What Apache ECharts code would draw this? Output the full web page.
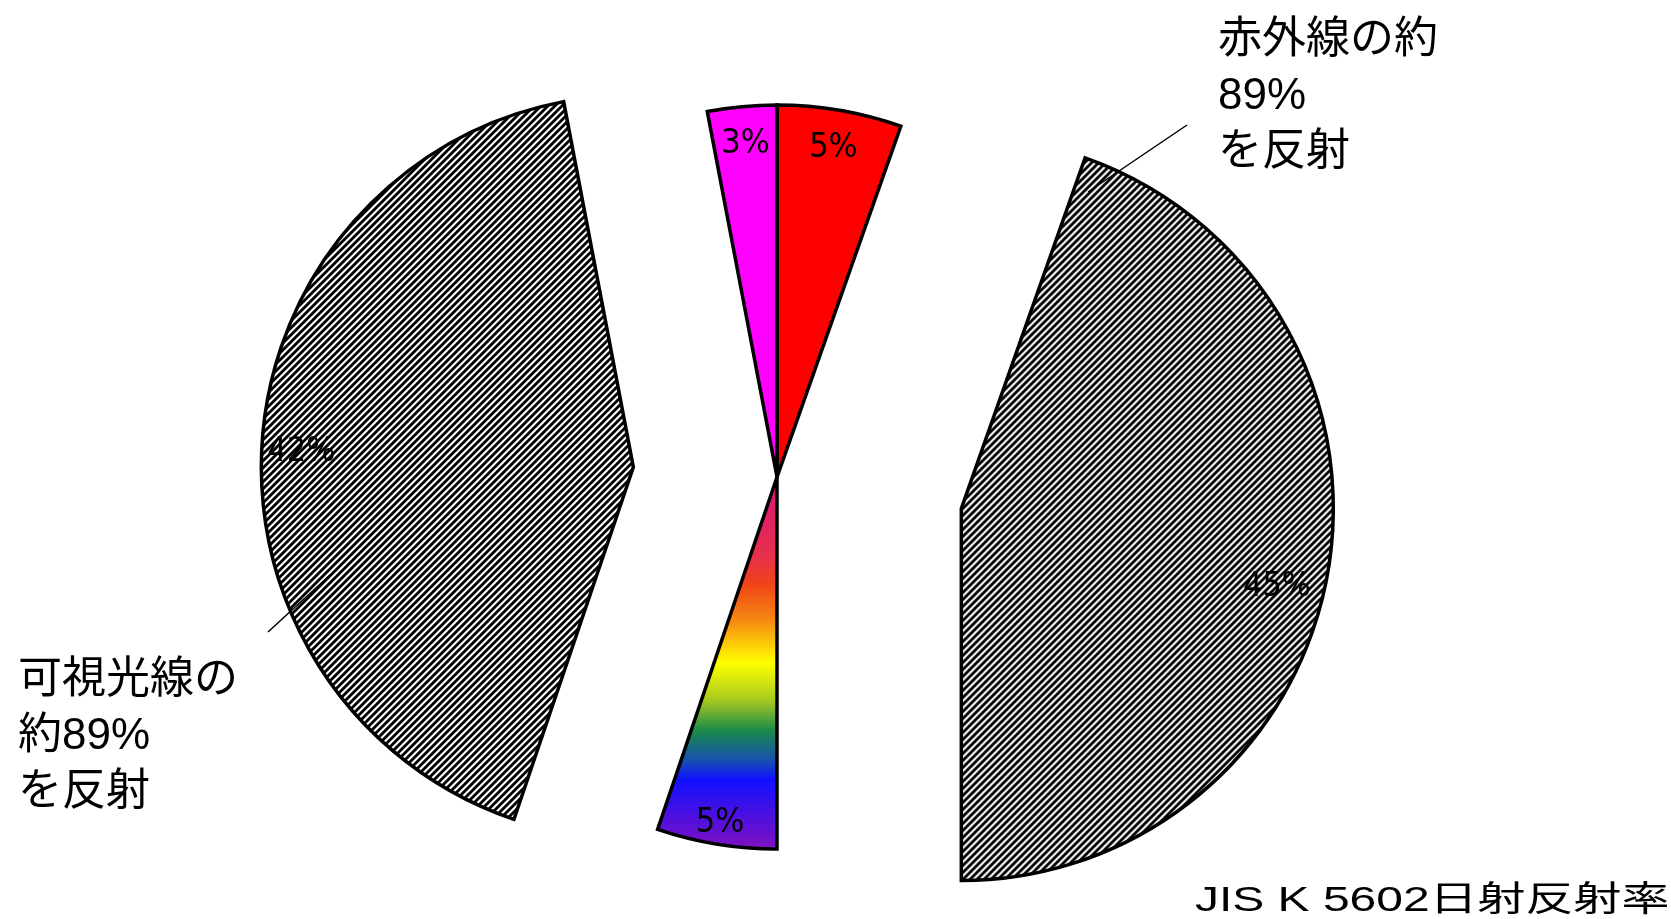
<!DOCTYPE html>
<html>
<head>
<meta charset="utf-8">
<script src="https://cdn.jsdelivr.net/npm/echarts@6/dist/echarts.min.js"></script>
<style>
  html, body { margin: 0; padding: 0; background: #ffffff; }
  #chart { width: 1671px; height: 919px; }
</style>
</head>
<body>
<div id="chart"></div>
<script>
// Solar energy split: infrared 50%, visible 47%, ultraviolet 3%,
// with the reflected part of infrared and visible pulled out of the pie.
const sliceNames = ['赤外線(吸収)', '赤外線(反射)', '可視光線(吸収)', '可視光線(反射)', '紫外線'];
const sliceValues = [5.4, 44.6, 5.2, 41.8, 3.0];

const noteInfrared = ['赤外線の約', '89%', 'を反射'];
const noteVisible = ['可視光線の', '約89%', 'を反射'];
const footnote = 'JIS K 5602日射反射率';

const CENTER = [777, 477];
const R = 372;
const LABEL_FONT = '"Liberation Sans Narrow", "DejaVu Sans Condensed", "Liberation Sans", sans-serif';
const TEXT_FONT = '"Liberation Sans", "Noto Sans CJK JP", sans-serif';

// Fine "/" hatching used for the reflected slices
function hatchTile() {
  const s = 7;
  const c = document.createElement('canvas');
  c.width = s; c.height = s;
  const ctx = c.getContext('2d');
  ctx.fillStyle = '#ffffff';
  ctx.fillRect(0, 0, s, s);
  ctx.fillStyle = '#000000';
  for (let y = 0; y < s; y++) {
    for (let x = 0; x < s; x++) {
      if ((x + y) % s < 4) ctx.fillRect(x, y, 1, 1);
    }
  }
  return c;
}
const hatch = { image: hatchTile(), repeat: 'repeat' };

// Spectrum for the absorbed visible slice, top (centre) to bottom (rim)
const spectrum = {
  type: 'linear', x: 0, y: 0, x2: 0, y2: 1,
  colorStops: [
    { offset: 0.00, color: '#d8127e' },
    { offset: 0.22, color: '#e8304a' },
    { offset: 0.29, color: '#f04418' },
    { offset: 0.39, color: '#f68c10' },
    { offset: 0.50, color: '#ffff00' },
    { offset: 0.60, color: '#a6c820' },
    { offset: 0.68, color: '#1a8a4a' },
    { offset: 0.76, color: '#1750b0' },
    { offset: 0.81, color: '#1010ff' },
    { offset: 1.00, color: '#8410c0' }
  ]
};

const fills = ['#ff0000', hatch, spectrum, hatch, '#ff00ff'];
// the two large slices carry their percentage a little lower / sideways:
// a leading empty line of the given height pushes the text down by half of it
const labelDrop = [0, 46, 0, 16, 0];
const labelPad = [0, [0, 20, 0, 0], 0, [0, 0, 0, 6], 0];

// One pie per explode distance; slices not in `shown` stay invisible.
function pieSeries(offset, shown, labelRing) {
  const asLabels = labelRing != null;
  return {
    type: 'pie',
    center: CENTER,
    radius: asLabels ? [R * labelRing, R] : [0, R],
    startAngle: 90,
    clockwise: true,
    selectedMode: 'multiple',
    selectedOffset: offset,
    percentPrecision: 0,
    silent: true,
    animation: false,
    avoidLabelOverlap: false,
    emphasis: { disabled: true },
    labelLine: { show: false },
    data: sliceNames.map((name, i) => {
      const on = shown.includes(i);
      const drop = labelDrop[i];
      return {
        name: name,
        value: sliceValues[i],
        selected: offset > 0 && on,
        itemStyle: (!asLabels && on)
          ? { color: fills[i], borderColor: '#000000', borderWidth: 3.5, borderJoin: 'miter' }
          : { color: 'rgba(0,0,0,0)', borderWidth: 0 },
        label: {
          show: asLabels && on,
          position: 'inside',
          rotate: 0,
          padding: labelPad[i],
          formatter: drop ? '\n{d}%' : '{d}%',
          lineHeight: drop || 38,
          color: '#000000',
          fontSize: 34,
          fontFamily: LABEL_FONT,
          textBorderWidth: 0
        }
      };
    })
  };
}

const chart = echarts.init(document.getElementById('chart'), null, { renderer: 'canvas' });

chart.setOption({
  backgroundColor: '#ffffff',
  animation: false,
  series: [
    pieSeries(0, [0, 2, 4]),
    pieSeries(187, [1]),
    pieSeries(144, [3]),
    pieSeries(0, [0, 4], 0.78),
    pieSeries(0, [2], 0.87),
    pieSeries(187, [1], 0.76),
    pieSeries(144, [3], 0.79)
  ],
  graphic: [
    {
      type: 'text', x: 1218, y: 13, z: 20,
      style: { text: noteInfrared.join('\n'), fontSize: 44, fontFamily: TEXT_FONT, lineHeight: 56, fill: '#000000', verticalAlign: 'top' }
    },
    {
      type: 'text', x: 18, y: 653, z: 20,
      style: { text: noteVisible.join('\n'), fontSize: 44, fontFamily: TEXT_FONT, lineHeight: 56, fill: '#000000', verticalAlign: 'top' }
    },
    {
      type: 'text', x: 1195, y: 884, z: 20, scaleX: 1.37,
      style: { text: footnote, fontSize: 35, fontFamily: TEXT_FONT, lineHeight: 35, fill: '#000000', verticalAlign: 'top' }
    },
    {
      type: 'line', z: 20,
      shape: { x1: 1187, y1: 125, x2: 1088, y2: 192 },
      style: { stroke: '#000000', lineWidth: 1.5 }
    },
    {
      type: 'line', z: 20,
      shape: { x1: 268, y1: 632, x2: 330, y2: 575 },
      style: { stroke: '#000000', lineWidth: 1.5 }
    }
  ]
});
</script>
</body>
</html>
